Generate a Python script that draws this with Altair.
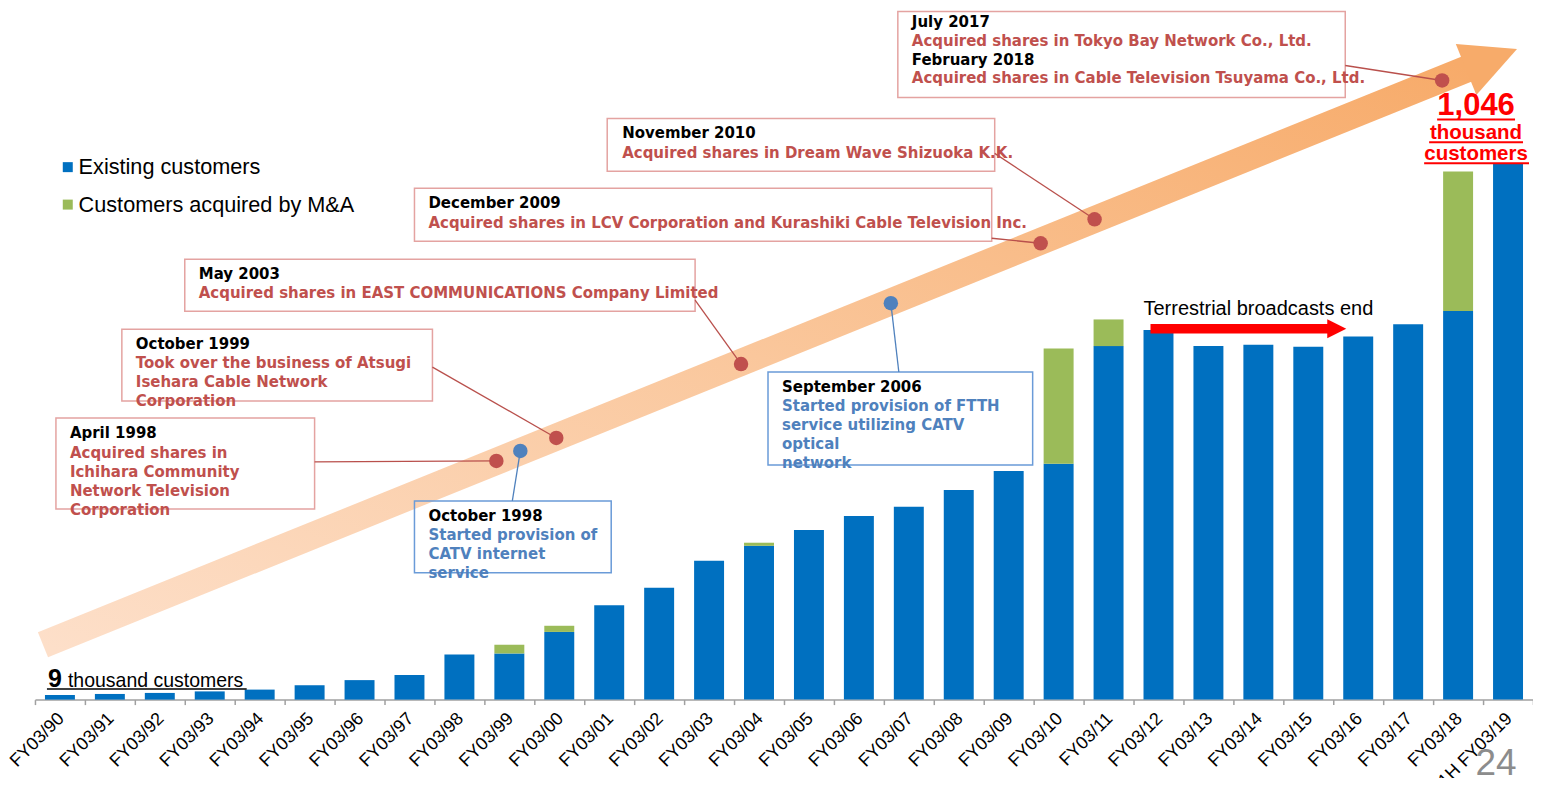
import altair as alt
import pandas as pd

# ---------------- data (thousand customers) ----------------
labels = ["FY03/90", "FY03/91", "FY03/92", "FY03/93", "FY03/94", "FY03/95", "FY03/96",
          "FY03/97", "FY03/98", "FY03/99", "FY03/00", "FY03/01", "FY03/02", "FY03/03",
          "FY03/04", "FY03/05", "FY03/06", "FY03/07", "FY03/08", "FY03/09", "FY03/10",
          "FY03/11", "FY03/12", "FY03/13", "FY03/14", "FY03/15", "FY03/16", "FY03/17",
          "FY03/18", "1H FY03/19"]
existing = [9, 11, 13, 16, 19.5, 28, 38, 48, 88, 90, 132, 184, 218, 271, 300, 331, 358,
            376, 409, 446, 460, 689.5, 721, 689.5, 692, 688, 708, 732, 758, 1046]
acquired = [0, 0, 0, 0, 0, 0, 0, 0, 0, 17, 12, 0, 0, 0, 6, 0, 0, 0, 0, 0, 225, 52, 0,
            0, 0, 0, 0, 0, 272, 0]
series = ["Existing customers", "Customers acquired by M&A"]
series_colors = ["#0070C0", "#9BBB59"]

rows = []
for i, lab in enumerate(labels):
    rows.append({"idx": i, "label": lab, "type": series[0], "value": existing[i], "ord": 0})
    rows.append({"idx": i, "label": lab, "type": series[1], "value": acquired[i], "ord": 1})
bars_df = pd.DataFrame(rows)

# ---------------- annotation layout (in data units: x = bar index, y = thousand) ----------
box_x1 = [16.78, 10.96, 7.10, 2.50, 1.24, -0.08, 7.10, 14.18]
box_x2 = [25.74, 18.72, 18.66, 12.72, 7.46, 5.10, 11.04, 19.48]
box_y1 = [1342.0, 1133.6, 997.3, 859.0, 722.6, 549.3, 387.6, 638.9]
box_y2 = [1174.5, 1030.4, 894.0, 757.7, 582.4, 372.0, 247.4, 457.7]
box_kind = ["red", "red", "red", "red", "red", "red", "blue", "blue"]

heading_text = ["July 2017", "February 2018", "November 2010", "December 2009", "May 2003",
                "October 1999", "April 1998", "October 1998", "September 2006"]
heading_x = [17.06, 17.06, 11.26, 7.38, 2.78, 1.52, 0.20, 7.38, 14.46]
heading_y = [1322.6, 1248.5, 1104.4, 968.0, 829.8, 693.4, 520.1, 358.4, 609.7]

red_text = ["Acquired shares in Tokyo Bay Network Co., Ltd.",
            "Acquired shares in Cable Television Tsuyama Co., Ltd.",
            "Acquired shares in Dream Wave Shizuoka K.K.",
            "Acquired shares in LCV Corporation and Kurashiki Cable Television Inc.",
            "Acquired shares in EAST COMMUNICATIONS Company Limited",
            "Took over the business of Atsugi", "Isehara Cable Network", "Corporation",
            "Acquired shares in", "Ichihara Community", "Network Television", "Corporation"]
red_x = [17.06, 17.06, 11.26, 7.38, 2.78, 1.52, 1.52, 1.52, 0.20, 0.20, 0.20, 0.20]
red_y = [1285.5, 1211.5, 1065.4, 929.1, 792.7, 656.4, 619.4, 582.4, 481.1, 444.1, 407.1, 370.1]

blue_text = ["Started provision of", "CATV internet", "service",
             "Started provision of FTTH", "service utilizing CATV", "optical", "network"]
blue_x = [7.38, 7.38, 7.38, 14.46, 14.46, 14.46, 14.46]
blue_y = [321.4, 284.4, 247.4, 572.6, 535.6, 498.6, 461.6]

dot_x = [8.74, 9.94, 13.64, 19.64, 20.72, 27.68, 9.22, 16.64]
dot_y = [465.5, 510.3, 654.5, 890.1, 936.9, 1207.6, 485.0, 773.3]
dot_kind = ["red", "red", "red", "red", "red", "red", "blue", "blue"]

lead_x1 = [25.74, 18.72, 18.66, 12.72, 7.46, 5.10, 9.06, 16.80]
lead_y1 = [1236.8, 1065.4, 899.9, 779.1, 648.6, 463.6, 387.6, 638.9]
lead_x2 = [27.68, 20.72, 19.64, 13.64, 9.94, 8.74, 9.22, 16.64]
lead_y2 = [1207.6, 936.9, 890.1, 654.5, 510.3, 465.5, 485.0, 773.3]
lead_kind = ["red", "red", "red", "red", "red", "red", "blue", "blue"]

band_x = [-0.34, 28.20]
band_y = [107.1, 1231.0]

# ---------------- scales / axis ----------------
W, H = 1500, 692
xs = alt.Scale(domain=[-0.5, 29.5], nice=False, zero=False, padding=0)
ys = alt.Scale(domain=[0, 1348], nice=False, zero=False, padding=0)

label_arr = "[" + ",".join("'" + s + "'" for s in labels) + "]"
tick_vals = [i - 0.5 for i in range(len(labels) + 1)]
x_axis = alt.Axis(values=tick_vals,
                  labelExpr="datum.value > 29 ? '' : " + label_arr + "[datum.value + 0.5]",
                  labelAngle=315, labelAlign="right", labelBaseline="middle",
                  labelOffset=26, labelPadding=11, labelFontSize=18,
                  labelFont="Liberation Sans", labelColor="#000000",
                  labelOverlap=False, labelFlush=False, labelBound=False,
                  grid=False, domainColor="#A0A0A0", domainWidth=1.5,
                  tickColor="#A0A0A0", tickWidth=1.5, tickSize=5, title=None)


def X(f):
    return alt.X(f, type="quantitative", scale=xs, axis=x_axis, title=None)


def Y(f):
    return alt.Y(f, type="quantitative", scale=ys, axis=None, title=None)


# ---------------- layers ----------------
band = alt.Chart(pd.DataFrame({"x": band_x, "y": band_y})).mark_line(
    strokeWidth=27, strokeCap="butt",
    stroke={"gradient": "linear", "x1": 0, "y1": 1, "x2": 1, "y2": 0,
            "stops": [{"offset": 0, "color": "#FDDFC9"},
                      {"offset": 0.5, "color": "#FAC79C"},
                      {"offset": 1, "color": "#F7AB6A"}]}
).encode(x=X("x"), y=Y("y"))

head = alt.Chart(pd.DataFrame({"x": [28.67], "y": [1249.1]})).mark_point(
    shape="M-1,-1L1,0L-1,1Z", filled=True, color="#F7AB6A", opacity=1,
    size=3025, angle=338, strokeWidth=0
).encode(x=X("x"), y=Y("y"))

bars = alt.Chart(bars_df).mark_bar(size=30).encode(
    x=X("idx"),
    y=alt.Y("value:Q", scale=ys, axis=None, stack="zero", title=None),
    color=alt.Color("type:N", scale=alt.Scale(domain=series, range=series_colors),
                    legend=alt.Legend(orient="none", legendX=22, legendY=148, title=None,
                                      symbolType="square", symbolSize=100,
                                      symbolStrokeWidth=0, symbolOpacity=1,
                                      labelFontSize=21.7, labelFont="Liberation Sans",
                                      labelColor="#000000", rowPadding=14.5,
                                      labelOffset=0, padding=0, labelLimit=500)),
    order=alt.Order("ord:Q"),
)

boxes_df = pd.DataFrame({"x1": box_x1, "x2": box_x2, "y1": box_y1, "y2": box_y2, "k": box_kind})
red_boxes = alt.Chart(boxes_df[boxes_df.k == "red"]).mark_rect(
    fillOpacity=0, stroke="#E4A3A1", strokeWidth=1.5
).encode(x=X("x1"), x2="x2", y=Y("y1"), y2="y2")
blue_boxes = alt.Chart(boxes_df[boxes_df.k == "blue"]).mark_rect(
    fillOpacity=0, stroke="#6A9BD8", strokeWidth=1.5
).encode(x=X("x1"), x2="x2", y=Y("y1"), y2="y2")

lead_df = pd.DataFrame({"x1": lead_x1, "y1": lead_y1, "x2": lead_x2, "y2": lead_y2, "k": lead_kind})
red_leads = alt.Chart(lead_df[lead_df.k == "red"]).mark_rule(
    color="#B9504C", strokeWidth=1.3
).encode(x=X("x1"), y=Y("y1"), x2="x2", y2="y2")
blue_leads = alt.Chart(lead_df[lead_df.k == "blue"]).mark_rule(
    color="#4F81BD", strokeWidth=1.3
).encode(x=X("x1"), y=Y("y1"), x2="x2", y2="y2")

dots_df = pd.DataFrame({"x": dot_x, "y": dot_y, "k": dot_kind})
red_dots = alt.Chart(dots_df[dots_df.k == "red"]).mark_circle(
    color="#C0504D", opacity=1, size=210
).encode(x=X("x"), y=Y("y"))
blue_dots = alt.Chart(dots_df[dots_df.k == "blue"]).mark_circle(
    color="#4F81BD", opacity=1, size=210
).encode(x=X("x"), y=Y("y"))

box_font = dict(align="left", baseline="middle", font="DejaVu Sans", fontWeight="bold", fontSize=15)
headings = alt.Chart(pd.DataFrame({"x": heading_x, "y": heading_y, "t": heading_text})).mark_text(
    color="#000000", **box_font).encode(x=X("x"), y=Y("y"), text="t:N")
red_lines = alt.Chart(pd.DataFrame({"x": red_x, "y": red_y, "t": red_text})).mark_text(
    color="#C0504D", **box_font).encode(x=X("x"), y=Y("y"), text="t:N")
blue_lines = alt.Chart(pd.DataFrame({"x": blue_x, "y": blue_y, "t": blue_text})).mark_text(
    color="#4F81BD", **box_font).encode(x=X("x"), y=Y("y"), text="t:N")

# start / end callouts
nine = alt.Chart(pd.DataFrame({"x": [-0.24], "y": [25.3], "t": ["9"]})).mark_text(
    align="left", baseline="alphabetic", font="Liberation Sans", fontWeight="bold",
    fontSize=25, color="#000000").encode(x=X("x"), y=Y("y"), text="t:N")
nine_txt = alt.Chart(pd.DataFrame({"x": [0.16], "y": [25.3], "t": ["thousand customers"]})).mark_text(
    align="left", baseline="alphabetic", font="Liberation Sans", fontSize=19.5,
    color="#000000").encode(x=X("x"), y=Y("y"), text="t:N")
nine_ul = alt.Chart(pd.DataFrame({"x": [-0.26], "x2": [3.74], "y": [20.8]})).mark_rule(
    color="#000000", strokeWidth=1.5).encode(x=X("x"), x2="x2", y=Y("y"))

end_df = pd.DataFrame({"x": [28.36, 28.36, 28.36], "y": [1139.5, 1092.7, 1051.8],
                       "t": ["1,046", "thousand", "customers"], "s": [31, 20.5, 20.5]})
end_txt = alt.Chart(end_df).mark_text(
    align="center", baseline="alphabetic", font="Liberation Sans", fontWeight="bold",
    color="#FF0000").encode(x=X("x"), y=Y("y"), text="t:N",
                             size=alt.Size("s:Q", scale=None, legend=None))
end_ul = alt.Chart(pd.DataFrame({"x": [27.58, 27.42, 27.32], "x2": [29.14, 29.30, 29.42],
                                 "y": [1131.7, 1086.9, 1046.0]})).mark_rule(
    color="#FF0000", strokeWidth=2).encode(x=X("x"), x2="x2", y=Y("y"))

terr_txt = alt.Chart(pd.DataFrame({"x": [21.7], "y": [749.9], "t": ["Terrestrial broadcasts end"]})).mark_text(
    align="left", baseline="alphabetic", font="Liberation Sans", fontSize=20,
    color="#000000").encode(x=X("x"), y=Y("y"), text="t:N")
terr_shaft = alt.Chart(pd.DataFrame({"x": [21.84], "x2": [25.45], "y": [723.2]})).mark_rule(
    color="#FF0000", strokeWidth=9.5).encode(x=X("x"), x2="x2", y=Y("y"))
terr_head = alt.Chart(pd.DataFrame({"x": [25.57], "y": [723.2]})).mark_point(
    shape="M-1,-1L1,0L-1,1Z", filled=True, color="#FF0000", opacity=1, size=361,
    strokeWidth=0).encode(x=X("x"), y=Y("y"))

page_no = alt.Chart(pd.DataFrame({"x": [28.76], "y": [-148.0], "t": ["24"]})).mark_text(
    align="center", baseline="alphabetic", font="Liberation Sans", fontSize=37,
    color="#8C8C8C").encode(x=X("x"), y=Y("y"), text="t:N")

chart = alt.layer(
    band, head, bars, red_boxes, blue_boxes, red_leads, blue_leads, red_dots, blue_dots,
    headings, red_lines, blue_lines, nine, nine_txt, nine_ul, end_txt, end_ul,
    terr_txt, terr_shaft, terr_head, page_no
).properties(
    width=W, height=H,
    padding={"left": 27, "top": 0, "right": 0, "bottom": 78},
    autosize=alt.AutoSizeParams(type="none"),
    background="#FFFFFF",
).configure_view(stroke=None)

chart.save("out.html", embed_options={"renderer": "svg", "actions": False})
